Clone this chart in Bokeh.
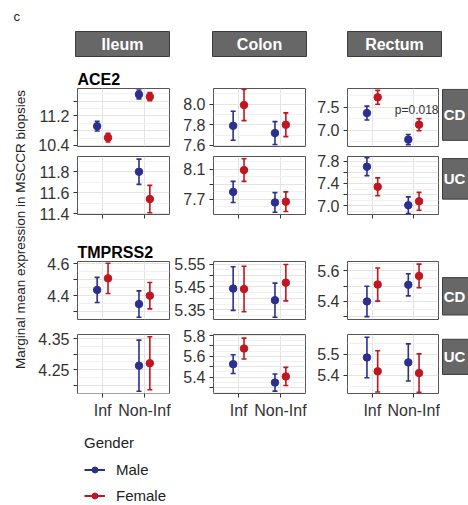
import math
import numpy as np
from bokeh.plotting import figure
from bokeh.models import (ColumnDataSource, FactorRange, Range1d, FixedTicker,
                          PrintfTickFormatter, Legend, LegendItem, CategoricalTicker)
from bokeh.layouts import column, row
from bokeh.transform import dodge
from bokeh.core.properties import value
from bokeh.embed import file_html
from bokeh.resources import INLINE

# ---------------- data ----------------
categories = ["Inf", "Non-Inf"]
tissues = ["Ileum", "Colon", "Rectum"]
diseases = ["CD", "UC"]
genes = ["ACE2", "TMPRSS2"]
sexes = ["Male", "Female"]
nan = float("nan")

# marginal means per tissue [Ileum, Colon, Rectum], each [Inf, Non-Inf]; *_se = half error bar
ace2_cd_male = [[10.92, 11.78], [7.79, 7.72], [7.37, 6.80]]
ace2_cd_male_se = [[0.13, 0.12], [0.14, 0.11], [0.15, 0.11]]
ace2_cd_female = [[10.61, 11.72], [7.99, 7.80], [7.71, 7.12]]
ace2_cd_female_se = [[0.12, 0.11], [0.15, 0.115], [0.15, 0.13]]

ace2_uc_male = [[nan, 11.80], [7.80, 7.66], [7.70, 7.01]]
ace2_uc_male_se = [[nan, 0.12], [0.14, 0.13], [0.16, 0.15]]
ace2_uc_female = [[nan, 11.54], [8.09, 7.67], [7.34, 7.08]]
ace2_uc_female_se = [[nan, 0.13], [0.15, 0.13], [0.16, 0.16]]

tmprss2_cd_male = [[4.436, 4.347], [5.443, 5.392], [5.40, 5.508]]
tmprss2_cd_male_se = [[0.079, 0.083], [0.096, 0.075], [0.099, 0.072]]
tmprss2_cd_female = [[4.509, 4.40], [5.441, 5.469], [5.51, 5.566]]
tmprss2_cd_female_se = [[0.095, 0.083], [0.10, 0.08], [0.108, 0.077]]

tmprss2_uc_male = [[nan, 4.263], [5.525, 5.348], [5.484, 5.461]]
tmprss2_uc_male_se = [[nan, 0.082], [0.09, 0.082], [0.095, 0.087]]
tmprss2_uc_female = [[nan, 4.271], [5.675, 5.407], [5.419, 5.411]]
tmprss2_uc_female_se = [[nan, 0.085], [0.10, 0.087], [0.097, 0.09]]

# y tick labels per panel and unlabelled tick positions
ace2_cd_ticks = [["10.4", "11.2"], ["7.6", "7.8", "8.0"], ["7.0", "7.5"]]
ace2_cd_unlabelled = [[10.8, 11.6], [], []]
ace2_uc_ticks = [["11.4", "11.6", "11.8"], ["7.7", "8.1"], ["7.0", "7.4", "7.8"]]
ace2_uc_unlabelled = [[], [7.9], [7.2, 7.6]]
tmprss2_cd_ticks = [["4.4", "4.6"], ["5.35", "5.45", "5.55"], ["5.4", "5.6"]]
tmprss2_cd_unlabelled = [[4.3, 4.5], [5.4, 5.5], [5.3, 5.5]]
tmprss2_uc_ticks = [["4.25", "4.35"], ["5.4", "5.6", "5.8"], ["5.4", "5.5"]]
tmprss2_uc_unlabelled = [[4.2, 4.3], [5.3, 5.5, 5.7], []]

p_value_text = "p=0.018"
y_axis_title = "Marginal mean expression in MSCCR biopsies"
legend_title = "Gender"
panel_tag = "c"

# ---------------- layout / style ----------------
FONT = "Liberation Sans"
COLORS = {"Male": "#2b2f8e", "Female": "#c0161f"}
DODGE = {"Male": -0.13, "Female": 0.13}
TXT = "#333333"

COLS = [(47, 92, 2), (42, 92, 2), (40, 91, 2)]           # border left, frame width, border right
ROWS = [(1, 58, 7), (3, 58, 22), (25, 58, 7), (8, 59, 32)]  # border top, frame height, border bottom
STRIP_W = 28
YLAB_W = 30

Y_RANGES = {
    ("ACE2", "CD"): [(10.37, 11.94), (7.59, 8.15), (6.65, 7.90)],
    ("ACE2", "UC"): [(11.393, 11.945), (7.50, 8.27), (6.844, 7.883)],
    ("TMPRSS2", "CD"): [(4.25, 4.615), (5.307, 5.562), (5.282, 5.66)],
    ("TMPRSS2", "UC"): [(4.174, 4.363), (5.243, 5.81), (5.315, 5.592)],
}

SERIES = {
    ("ACE2", "CD"): (ace2_cd_male, ace2_cd_male_se, ace2_cd_female, ace2_cd_female_se, ace2_cd_ticks, ace2_cd_unlabelled),
    ("ACE2", "UC"): (ace2_uc_male, ace2_uc_male_se, ace2_uc_female, ace2_uc_female_se, ace2_uc_ticks, ace2_uc_unlabelled),
    ("TMPRSS2", "CD"): (tmprss2_cd_male, tmprss2_cd_male_se, tmprss2_cd_female, tmprss2_cd_female_se, tmprss2_cd_ticks, tmprss2_cd_unlabelled),
    ("TMPRSS2", "UC"): (tmprss2_uc_male, tmprss2_uc_male_se, tmprss2_uc_female, tmprss2_uc_female_se, tmprss2_uc_ticks, tmprss2_uc_unlabelled),
}


def deco_figure(w, h):
    f = figure(width=w, height=h, x_range=Range1d(0, w), y_range=Range1d(h, 0),
               x_axis_type=None, y_axis_type=None, min_border=0,
               output_backend="svg", toolbar_location=None)
    f.outline_line_color = None
    f.grid.visible = False
    return f


def make_panel(gene, dis, ti, ri):
    male, male_se, female, female_se, tick_labels, unlabelled = SERIES[(gene, dis)]
    bl, fw, br = COLS[ti]
    bt, fh, bb = ROWS[ri]
    yr = Y_RANGES[(gene, dis)][ti]
    xmode = ri in (1, 3)
    p = figure(width=bl + fw + br, height=bt + fh + bb,
               min_border_left=bl, min_border_right=br, min_border_top=bt, min_border_bottom=bb,
               x_range=FactorRange(factors=categories, range_padding=0.1, range_padding_units="absolute"),
               y_range=Range1d(*yr), x_axis_location=("below" if xmode else None),
               output_backend="svg", toolbar_location=None)
    p.background_fill_color = "white"
    p.border_fill_color = "white"
    p.outline_line_color = "#555555"
    p.outline_line_width = 1

    if ti == 0 and ri == 2:
        p.title.text = gene
        p.title.text_font = FONT
        p.title.text_font_size = "16px"
        p.title.text_font_style = "bold"
        p.title.text_color = "black"
        p.title.align = "left"
        p.title.offset = 0
        p.title.standoff = 1

    # grids
    labelled_vals = [float(s) for s in tick_labels[ti]]
    all_ticks = sorted(labelled_vals + list(unlabelled[ti]))
    step = all_ticks[1] - all_ticks[0]
    mids = []
    k = math.floor((yr[0] - all_ticks[0]) / step) - 1
    while True:
        m = all_ticks[0] + (k + 0.5) * step
        if m > yr[1]:
            break
        if m >= yr[0]:
            mids.append(round(m, 6))
        k += 1
    p.ygrid.ticker = FixedTicker(ticks=all_ticks, minor_ticks=mids)
    p.ygrid.grid_line_color = "#e4e4e4"
    p.ygrid.minor_grid_line_color = "#f0f0f0"
    p.xgrid.ticker = CategoricalTicker()
    p.xgrid.grid_line_color = "#e4e4e4"

    # y axis
    dec = max(len(s.split(".")[1]) for s in tick_labels[ti])
    ya = p.yaxis[0]
    ya.ticker = FixedTicker(ticks=labelled_vals, minor_ticks=list(unlabelled[ti]))
    ya.formatter = PrintfTickFormatter(format="%." + str(dec) + "f")
    ya.axis_line_color = None
    ya.major_tick_out = 4
    ya.major_tick_in = 0
    ya.minor_tick_out = 4
    ya.minor_tick_in = 0
    ya.major_tick_line_color = TXT
    ya.minor_tick_line_color = TXT
    ya.major_label_text_font = FONT
    ya.major_label_text_font_size = "16px"
    ya.major_label_text_color = TXT
    ya.major_label_standoff = 4

    if xmode:
        xa = p.xaxis[0]
        xa.axis_line_color = None
        xa.major_tick_out = 4
        xa.major_tick_in = 0
        xa.major_tick_line_color = TXT
        xa.major_label_text_font = FONT
        xa.major_label_text_font_size = "16px"
        xa.major_label_text_color = TXT if ri == 3 else None
        xa.major_label_standoff = 4

    for sex, mean, se in (("Male", male, male_se), ("Female", female, female_se)):
        m = np.array(mean[ti], dtype=float)
        s = np.array(se[ti], dtype=float)
        src = ColumnDataSource(dict(x=categories, y=m, lo=m - s, hi=m + s))
        xd = dodge("x", DODGE[sex], range=p.x_range)
        col = COLORS[sex]
        p.segment(x0=xd, y0="lo", x1=xd, y1="hi", line_color=col, line_width=1.6, source=src)
        p.scatter(x=xd, y="hi", marker="dash", size=5, line_color=col, line_width=1.6, source=src)
        p.scatter(x=xd, y="lo", marker="dash", size=5, line_color=col, line_width=1.6, source=src)
        p.scatter(x=xd, y="y", marker="circle", size=7.5, fill_color=col, line_color=col, source=src)

    if gene == "ACE2" and dis == "CD" and tissues[ti] == "Rectum":
        p.text(x=["Non-Inf"], y=[7.44], text=[p_value_text], x_offset=3,
               text_align="center", text_baseline="middle", text_font=value(FONT),
               text_font_size="12px", text_color=TXT)
    return p


def make_strip(dis, ri):
    bt, fh, bb = ROWS[ri]
    h = bt + fh + bb
    f = deco_figure(STRIP_W, h)
    f.quad(left=[2], right=[STRIP_W + 4], top=[bt], bottom=[bt + fh],
           fill_color="#676767", line_color="#3c3c3c", line_width=1)
    f.text(x=[14], y=[bt + fh / 2], text=[dis], text_align="center", text_baseline="middle",
           text_font=value(FONT), text_font_style="bold", text_font_size="15px", text_color="white")
    return f


# header
header = deco_figure(468, 87)
header.text(x=[13], y=[15.5], text=[panel_tag], text_font=value(FONT), text_font_size="13px",
            text_color="#222222", text_baseline="middle")
strip_l = [75, 212, 347]
strip_r = [169, 306, 441]
header.quad(left=strip_l, right=strip_r, top=[31] * 3, bottom=[56] * 3,
            fill_color="#676767", line_color="#3c3c3c", line_width=1)
header.text(x=[(a + b) / 2 for a, b in zip(strip_l, strip_r)], y=[44] * 3, text=tissues,
            text_align="center", text_baseline="middle", text_font=value(FONT),
            text_font_style="bold", text_font_size="16px", text_color="white")
header.text(x=[77], y=[79], text=[genes[0]], text_font=value(FONT), text_font_style="bold",
            text_font_size="16px", text_color="black", text_baseline="middle")

# panel rows
combos = [("ACE2", "CD"), ("ACE2", "UC"), ("TMPRSS2", "CD"), ("TMPRSS2", "UC")]
panel_rows = []
for ri, (gene, dis) in enumerate(combos):
    figs = [make_panel(gene, dis, ti, ri) for ti in range(3)]
    figs.append(make_strip(dis, ri))
    panel_rows.append(row(*figs))

inner = column(*panel_rows)
inner_h = sum(sum(r) for r in ROWS)
ylab = deco_figure(YLAB_W, inner_h)
ylab.text(x=[20], y=[142], text=[y_axis_title], angle=math.pi / 2, text_align="center",
          text_baseline="middle", text_font=value(FONT), text_font_size="13.5px", text_color="#222222")

mid = row(ylab, inner)

# legend (key glyphs only; their single point lies outside the visible range)
lf = deco_figure(468, 80)
items = []
for sex in sexes:
    rl = lf.line(x=[-20, -10], y=[-20, -20], line_color=COLORS[sex], line_width=2)
    rs = lf.scatter(x=[-20], y=[-20], marker="circle", size=6, fill_color=COLORS[sex], line_color=COLORS[sex])
    items.append(LegendItem(label=sex, renderers=[rl, rs]))
leg = Legend(items=items, title=legend_title, location=(84, 0), orientation="vertical",
             border_line_color=None, background_fill_alpha=0, padding=0, margin=0,
             spacing=6, glyph_width=21, glyph_height=15, label_height=20, label_standoff=11,
             label_text_font=FONT, label_text_font_size="15px", label_text_color="#222222",
             title_text_font=FONT, title_text_font_size="15px", title_text_font_style="normal",
             title_text_color="#222222", title_standoff=8)
lf.add_layout(leg)

layout = column(header, mid, lf)

open("out.html", "w").write(file_html(layout, INLINE))
